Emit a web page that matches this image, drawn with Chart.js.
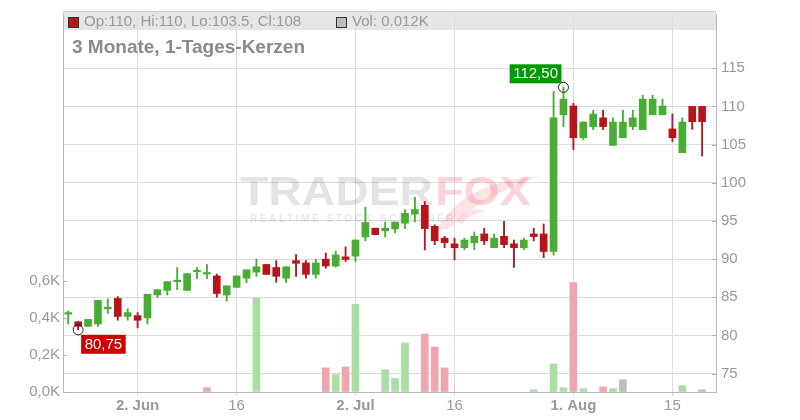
<!DOCTYPE html>
<html>
<head>
<meta charset="utf-8">
<script src="https://cdn.jsdelivr.net/npm/chart.js@4.4.1/dist/chart.umd.min.js"></script>
<style>
  html, body { margin: 0; padding: 0; background: #fff; }
</style>
</head>
<body>
<canvas id="c" width="800" height="420"></canvas>
<script>
Chart.defaults.font.family = '"Liberation Sans", Arial, sans-serif';
Chart.defaults.color = '#999';

// daily candles, 22 May .. 20 Aug (trading days, index 0..64)
const opens  = [82.8, 81.8, 81.2, 81.5, 83.5, 84.85, 82.5, 82.6, 82.3, 85.3, 85.9, 87.05, 85.9, 88.35, 88.05, 87.8, 85.3, 86.3, 87.5, 88.3,
                89.3, 88.9, 87.5, 89.8, 89.5, 88.0, 90.0, 89.1, 90.3, 90.4, 92.9, 94.05, 93.7, 93.95, 94.7, 95.9, 97.05, 94.3, 92.75, 92.0,
                91.5, 92.15, 93.3, 91.5, 93.0, 92.0, 91.5, 93.3, 93.3, 91.0, 108.9, 110.05, 105.9, 107.35, 108.5, 104.9, 105.9, 107.35, 106.95, 108.9,
                108.9, 107.05, 103.95, 110.0, 110.0];
const highs  = [83.2, 81.8, 82.1, 84.6, 84.8, 85.1, 83.5, 83.0, 85.4, 86.0, 87.05, 88.9, 88.1, 88.9, 89.3, 88.05, 86.5, 87.8, 88.6, 90.0,
                89.3, 89.8, 89.0, 90.6, 89.8, 90.0, 90.8, 91.05, 91.6, 92.5, 96.8, 94.05, 94.85, 94.85, 96.5, 98.1, 97.55, 94.5, 93.0, 92.75,
                92.75, 93.55, 94.05, 93.3, 94.95, 92.5, 92.75, 94.05, 94.6, 111.95, 112.5, 110.4, 107.95, 109.5, 109.5, 108.5, 109.5, 109.5, 111.45, 111.45,
                110.95, 109.0, 108.5, 110.0, 110.0];
const lows   = [81.5, 80.75, 81.2, 81.2, 82.9, 82.0, 82.0, 81.0, 81.5, 85.0, 85.3, 86.0, 85.9, 87.45, 87.45, 85.0, 84.5, 86.3, 86.9, 87.75,
                88.0, 86.95, 86.95, 87.75, 87.5, 87.5, 88.8, 88.95, 89.7, 89.7, 92.4, 93.2, 92.9, 93.45, 94.0, 94.85, 91.2, 91.9, 91.5, 89.9,
                91.25, 91.25, 91.9, 91.5, 91.5, 88.9, 91.25, 92.4, 90.2, 90.5, 107.35, 104.35, 105.65, 106.95, 106.95, 104.9, 105.9, 106.95, 106.95, 108.9,
                108.9, 105.4, 103.95, 107.0, 103.5];
const closes = [82.8, 81.2, 82.1, 84.6, 83.5, 82.5, 83.0, 82.0, 85.4, 86.0, 87.05, 87.05, 88.1, 88.35, 88.05, 85.5, 86.5, 87.8, 88.6, 89.0,
                88.0, 87.75, 89.0, 89.45, 88.0, 89.5, 89.1, 90.55, 89.95, 92.5, 94.8, 93.2, 94.05, 94.85, 96.0, 96.5, 94.0, 92.4, 92.15, 91.5,
                92.5, 93.0, 92.4, 92.75, 91.9, 91.5, 92.5, 92.95, 91.0, 108.5, 110.95, 105.9, 107.95, 109.0, 107.35, 107.95, 107.95, 108.5, 110.95, 110.95,
                110.05, 105.9, 107.95, 108.0, 108.0];
// volume in thousands
const vols   = [0, 0, 0, 0, 0, 0, 0, 0, 0, 0, 0, 0, 0, 0, 0.023, 0, 0, 0, 0, 0.504,
                0, 0, 0, 0, 0, 0, 0.13, 0.093, 0.135, 0.472, 0, 0, 0.12, 0.073, 0.264, 0, 0.312, 0.242, 0.13, 0,
                0, 0, 0, 0, 0, 0, 0, 0.012, 0, 0.151, 0.023, 0.59, 0.018, 0, 0.028, 0.018, 0.066, 0, 0, 0,
                0, 0, 0.034, 0, 0.012];

const xTickIdx    = [7, 17, 29, 39, 51, 61];
const xTickLabels = ['2. Jun', '16', '2. Jul', '16', '1. Aug', '15'];
const priceTicks  = [75, 80, 85, 90, 95, 100, 105, 110, 115];
const volTicks    = [0, 0.2, 0.4, 0.6];

const GREEN = '#48ad33', RED = '#b5151b';
const candleCol = closes.map((c, i) => c >= opens[i] ? GREEN : RED);
const volCol = closes.map((c, i) => {
  if (i === 0 || c === closes[i - 1]) return '#bdbdbd';
  return c > closes[i - 1] ? '#abdea5' : '#f0a6ae';
});

const bodies = opens.map((o, i) => ({ x: i, y: [o, closes[i]] }));
const wicks  = lows.map((l, i) => ({ x: i, y: [l, highs[i]] }));
const volPts = vols.map((v, i) => ({ x: i, y: v > 0 ? v : null }));

const fmt = v => String(v);
const last = closes.length - 1;

function markerLabel(ctx, text, bg, left, top) {
  ctx.font = '15px "Liberation Sans", Arial';
  const w = ctx.measureText(text).width + 7;
  ctx.fillStyle = bg;
  ctx.fillRect(left, top, w, 19);
  ctx.fillStyle = '#fff';
  ctx.textBaseline = 'middle';
  ctx.textAlign = 'left';
  ctx.fillText(text, left + 3.5, top + 10);
  return w;
}

const decor = {
  id: 'decor',
  beforeDraw(chart) {
    const ctx = chart.ctx, ca = chart.chartArea;
    ctx.save();
    ctx.fillStyle = '#e6e6e6';
    ctx.fillRect(ca.left, 12, ca.right - ca.left, 18);
    ctx.restore();
  },
  beforeDatasetsDraw(chart) {
    const ctx = chart.ctx;
    // watermark: fox tail behind the lettering
    ctx.save();
    ctx.fillStyle = 'rgba(240,70,90,0.15)';
    ctx.beginPath();
    ctx.moveTo(437, 230);
    ctx.quadraticCurveTo(462, 182, 540, 176);
    ctx.quadraticCurveTo(482, 196, 448, 229);
    ctx.closePath();
    ctx.fill();
    ctx.beginPath();
    ctx.moveTo(456, 222);
    ctx.quadraticCurveTo(470, 204, 486, 212);
    ctx.quadraticCurveTo(472, 212, 462, 224);
    ctx.closePath();
    ctx.fill();
    ctx.restore();

    ctx.save();
    ctx.translate(240, 205);
    ctx.scale(1.13, 1);
    ctx.font = 'bold 41px "Liberation Sans", Arial';
    ctx.textBaseline = 'alphabetic';
    ctx.fillStyle = 'rgba(0,0,0,0.11)';
    ctx.fillText('TRADER', 0, 0);
    const w = ctx.measureText('TRADER').width;
    ctx.fillStyle = 'rgba(240,70,90,0.24)';
    ctx.fillText('FOX', w + 2, 0);
    ctx.restore();

    ctx.save();
    ctx.font = 'bold 10px "Liberation Sans", Arial';
    ctx.letterSpacing = '2.6px';
    ctx.fillStyle = 'rgba(0,0,0,0.10)';
    ctx.textBaseline = 'middle';
    ctx.fillText('REALTIME STOCK SCREENER', 250, 219);
    ctx.restore();
  },
  afterDraw(chart) {
    const ctx = chart.ctx, ca = chart.chartArea;
    const xs = chart.scales.x, ys = chart.scales.y, yv = chart.scales.yv;
    ctx.save();
    // top frame
    ctx.strokeStyle = '#cfcfcf';
    ctx.lineWidth = 1;
    ctx.beginPath();
    ctx.moveTo(ca.left, 11.5);
    ctx.lineTo(ca.right, 11.5);
    ctx.stroke();
    // inward tick marks
    ctx.strokeStyle = '#b3b3b3';
    ctx.beginPath();
    ys.ticks.forEach(t => {
      const p = Math.round(ys.getPixelForValue(t.value)) + 0.5;
      ctx.moveTo(ca.right - 4, p); ctx.lineTo(ca.right, p);
    });
    yv.ticks.forEach(t => {
      const p = Math.round(yv.getPixelForValue(t.value)) + 0.5;
      ctx.moveTo(ca.left, p); ctx.lineTo(ca.left + 4, p);
    });
    ctx.stroke();

    // header
    ctx.textBaseline = 'middle';
    ctx.textAlign = 'left';
    ctx.fillStyle = candleCol[last];
    ctx.fillRect(68.5, 17.5, 10, 10);
    ctx.strokeStyle = '#333';
    ctx.strokeRect(68.5, 17.5, 10, 10);
    ctx.font = '15px "Liberation Sans", Arial';
    ctx.fillStyle = '#999';
    ctx.fillText('Op:' + fmt(opens[last]) + ', Hi:' + fmt(highs[last]) + ', Lo:' + fmt(lows[last]) + ', Cl:' + fmt(closes[last]), 84, 22);
    ctx.fillStyle = volCol[last];
    ctx.fillRect(336.5, 17.5, 10, 10);
    ctx.strokeRect(336.5, 17.5, 10, 10);
    ctx.fillStyle = '#999';
    ctx.fillText('Vol: ' + vols[last].toFixed(3) + 'K', 352, 22);

    ctx.font = 'bold 19px "Liberation Sans", Arial';
    ctx.fillStyle = '#8a8a8a';
    ctx.fillText('3 Monate, 1-Tages-Kerzen', 72, 48);

    // min / max markers
    const lo = Math.min(...lows), loIdx = lows.indexOf(lo);
    const hi = Math.max(...highs), hiIdx = highs.indexOf(hi);
    const lx = xs.getPixelForValue(loIdx), ly = ys.getPixelForValue(lo);
    const hx = xs.getPixelForValue(hiIdx), hy = ys.getPixelForValue(hi);
    ctx.strokeStyle = '#222';
    ctx.lineWidth = 1;
    ctx.beginPath(); ctx.arc(lx, ly, 5, 0, Math.PI * 2); ctx.stroke();
    ctx.beginPath(); ctx.arc(hx, hy, 5, 0, Math.PI * 2); ctx.stroke();
    markerLabel(ctx, lo.toFixed(2).replace('.', ','), '#cc0000', lx + 3, ly + 5);
    ctx.font = '15px "Liberation Sans", Arial';
    const hText = hi.toFixed(2).replace('.', ',');
    const hw = ctx.measureText(hText).width + 7;
    markerLabel(ctx, hText, '#009a00', hx - 2 - hw, hy - 23);
    ctx.restore();
  }
};

new Chart(document.getElementById('c'), {
  type: 'bar',
  data: {
    datasets: [
      { data: bodies, yAxisID: 'y', backgroundColor: candleCol, barThickness: 7, minBarLength: 1.5, grouped: false, order: 0 },
      { data: wicks, yAxisID: 'y', backgroundColor: candleCol, barThickness: 1.2, grouped: false, order: 1 },
      { data: volPts, yAxisID: 'yv', backgroundColor: volCol, barThickness: 7, grouped: false, order: 2 }
    ]
  },
  options: {
    responsive: false,
    animation: false,
    layout: { padding: { top: 11, left: 0, right: 0, bottom: 0 } },
    plugins: { legend: { display: false }, tooltip: { enabled: false } },
    scales: {
      x: {
        type: 'linear', offset: false, min: -0.53, max: 65.4,
        afterBuildTicks: s => { s.ticks = xTickIdx.map(v => ({ value: v })); },
        afterFit: s => { s.height = 28; },
        ticks: {
          autoSkip: false, maxRotation: 0, padding: 1, color: '#999',
          callback: v => xTickLabels[xTickIdx.indexOf(v)],
          font: ctx => ({ size: 15, weight: (xTickLabels[ctx.index] || '').includes('.') ? 'bold' : 'normal' })
        },
        grid: { color: '#dcdcdc', offset: false, tickLength: 4 },
        border: { color: '#b8b8b8' }
      },
      y: {
        position: 'right', min: 72.6, max: 122.1,
        afterBuildTicks: s => { s.ticks = priceTicks.map(v => ({ value: v })); },
        afterFit: s => { s.width = 84; },
        ticks: { padding: 5, color: '#999', font: { size: 15 }, callback: v => String(v) },
        grid: { color: '#dcdcdc', drawTicks: false },
        border: { color: '#b8b8b8' }
      },
      yv: {
        position: 'left', min: 0, max: 2.036,
        afterBuildTicks: s => { s.ticks = volTicks.map(v => ({ value: v })); },
        afterFit: s => { s.width = 63; },
        ticks: { padding: 3, color: '#999', font: { size: 15 }, callback: v => v.toFixed(1).replace('.', ',') + 'K' },
        grid: { drawOnChartArea: false, drawTicks: false },
        border: { color: '#b8b8b8' }
      }
    }
  },
  plugins: [decor]
});
</script>
</body>
</html>
